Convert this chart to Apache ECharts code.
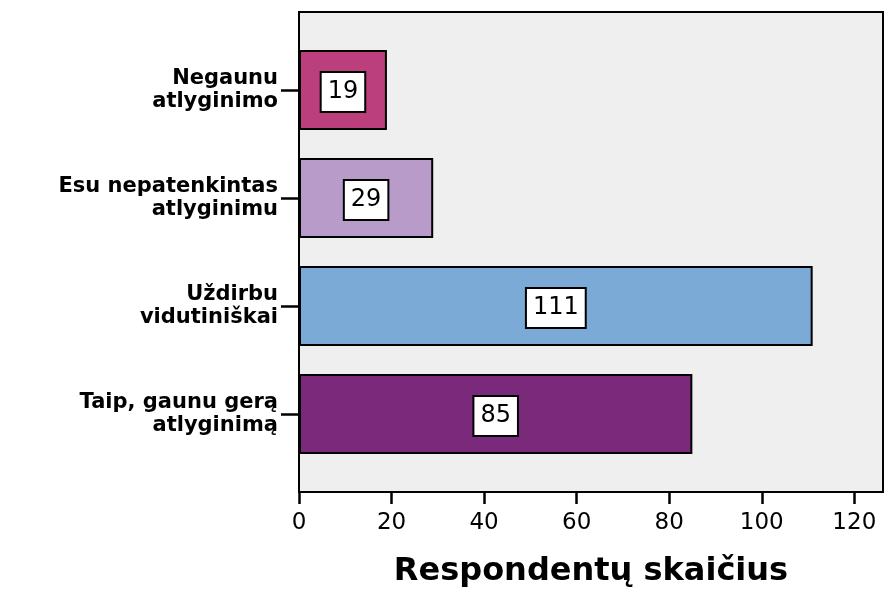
<!DOCTYPE html>
<html>
<head>
<meta charset="utf-8">
<script src="https://cdn.jsdelivr.net/npm/echarts@6/dist/echarts.min.js"></script>
<style>html,body{margin:0;padding:0;background:#fff}#c{width:885px;height:590px}</style>
</head>
<body>
<div id="c"></div>
<script>
const categories = ['Negaunu\natlyginimo', 'Esu nepatenkintas\natlyginimu', 'Uždirbu\nvidutiniškai', 'Taip, gaunu gerą\natlyginimą'];
const values = [19, 29, 111, 85];
const xTicks = [0, 20, 40, 60, 80, 100, 120];
const xTitle = 'Respondentų skaičius';
const palette = ['#BC3F7D', '#B99BC9', '#7BAAD7', '#7B2A7B'];

const chart = echarts.init(document.getElementById('c'), null, {renderer: 'canvas'});
const FONT = 'DejaVu Sans';
const XMAX = 126.2;
chart.setOption({
  animation: false,
  backgroundColor: '#ffffff',
  grid: [
    {left: 299, right: 2, top: 12, bottom: 98, show: true, backgroundColor: '#efefef', borderColor: '#000', borderWidth: 2, containLabel: false, outerBoundsMode: 'none'},
    {left: 299, right: 2, top: 36, bottom: 122, containLabel: false, outerBoundsMode: 'none'}
  ],
  xAxis: [
    {
      gridIndex: 0, type: 'value', min: 0, max: XMAX,
      axisLine: {show: true, lineStyle: {color: '#000', width: 2}},
      axisTick: {show: true, length: 12, lineStyle: {color: '#000', width: 2.5}, customValues: xTicks},
      axisLabel: {color: '#000', fontFamily: FONT, fontSize: 23, margin: 20, customValues: xTicks},
      splitLine: {show: false},
      name: xTitle, nameLocation: 'middle', nameGap: 64,
      nameTextStyle: {color: '#000', fontFamily: FONT, fontWeight: 'bold', fontSize: 32}
    },
    {gridIndex: 1, type: 'value', min: 0, max: XMAX, show: false}
  ],
  yAxis: [
    {gridIndex: 0, type: 'value', show: false},
    {
      gridIndex: 1, type: 'category', inverse: true, data: categories,
      axisLine: {show: false},
      axisTick: {show: true, alignWithLabel: true, length: 18, lineStyle: {color: '#000', width: 2.5}},
      axisLabel: {color: '#000', fontFamily: FONT, fontWeight: 'bold', fontSize: 21, lineHeight: 23, margin: 21, align: 'right', padding: [8, 0, 0, 0]}
    }
  ],
  series: [{
    type: 'bar', xAxisIndex: 1, yAxisIndex: 1,
    data: values.map((v, i) => ({value: v, itemStyle: {color: palette[i]}})),
    barWidth: 80,
    itemStyle: {borderColor: '#000', borderWidth: 2},
    label: {
      show: true, position: 'inside', offset: [0, 2], color: '#000', fontFamily: FONT, fontSize: 24,
      backgroundColor: '#fff', borderColor: '#000', borderWidth: 2, padding: [8, 6, 6, 6]
    }
  }]
});
</script>
</body>
</html>
